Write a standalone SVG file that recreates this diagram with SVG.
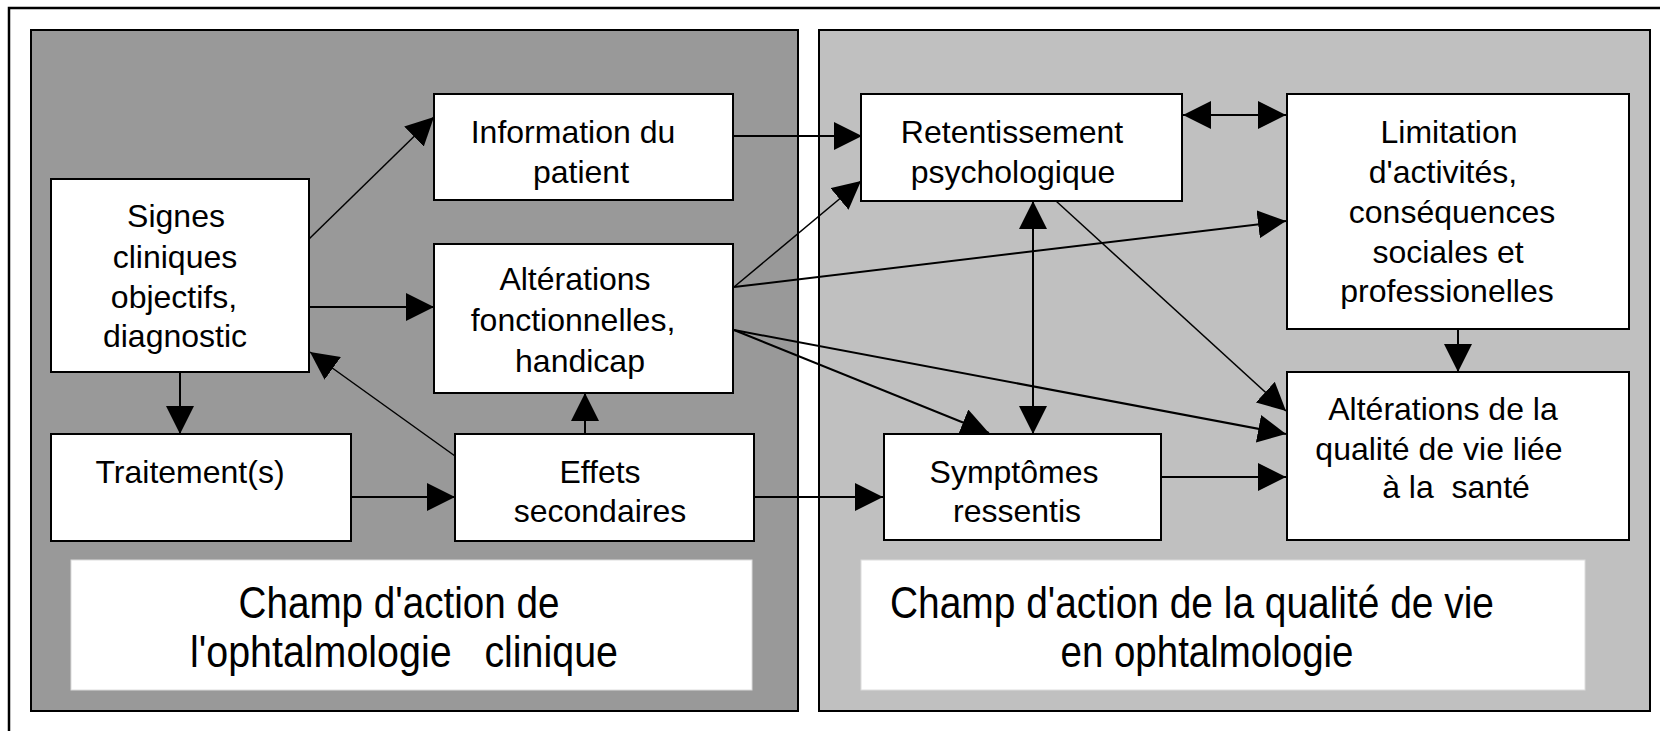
<svg xmlns="http://www.w3.org/2000/svg" width="1660" height="731" viewBox="0 0 1660 731">
<style>
.node rect{fill:#fff;stroke:#000;stroke-width:2}
.node text,.label text{font-family:"Liberation Sans",Arial,sans-serif;fill:#000;text-anchor:middle}
.node text{font-size:32px}
.label rect{fill:#fff;stroke:#dcdcdc;stroke-width:1}
.label text{font-size:45px;white-space:pre}
#connectors line{stroke:#000;stroke-width:2;fill:none}
#connectors line.thin{stroke-width:1.5}
</style>
<defs>
<marker id="ah" markerUnits="userSpaceOnUse" markerWidth="28" markerHeight="28" refX="26" refY="13" orient="auto-start-reverse" viewBox="0 0 26 26">
<path d="M0,0 L26,13 L0,26 z" fill="#000"/>
</marker>
</defs>
<rect x="9" y="8" width="1700" height="800" fill="#fff" stroke="#000" stroke-width="2.5"/>
<g id="panel-left"><rect x="31" y="30" width="767" height="681" fill="#999999" stroke="#000" stroke-width="2"/></g>
<g id="panel-right"><rect x="819" y="30" width="831" height="681" fill="#c0c0c0" stroke="#000" stroke-width="2"/></g>

<g id="label-left" class="label">
<rect x="71" y="560" width="681" height="130"/>
<text x="399" y="618" textLength="321" lengthAdjust="spacingAndGlyphs">Champ d'action de</text>
<text x="404" y="667" textLength="428" lengthAdjust="spacingAndGlyphs" xml:space="preserve">l'ophtalmologie   clinique</text>
</g>
<g id="label-right" class="label">
<rect x="861" y="560" width="724" height="130"/>
<text x="1192" y="618" textLength="604" lengthAdjust="spacingAndGlyphs">Champ d'action de la qualité de vie</text>
<text x="1207" y="667" textLength="293" lengthAdjust="spacingAndGlyphs">en ophtalmologie</text>
</g>

<g id="connectors">
<line class="thin" x1="309" y1="239" x2="434" y2="117" marker-end="url(#ah)"/>
<line x1="309" y1="307" x2="434" y2="307" marker-end="url(#ah)"/>
<line x1="180" y1="372" x2="180" y2="434" marker-end="url(#ah)"/>
<line x1="351" y1="497" x2="455" y2="497" marker-end="url(#ah)"/>
<line x1="585" y1="434" x2="585" y2="393" marker-end="url(#ah)"/>
<line class="thin" x1="455" y1="456" x2="310" y2="352" marker-end="url(#ah)"/>
<line x1="734" y1="136" x2="862" y2="136" marker-end="url(#ah)"/>
<line class="thin" x1="734" y1="287" x2="861" y2="181" marker-end="url(#ah)"/>
<line x1="734" y1="287" x2="1286" y2="221" marker-end="url(#ah)"/>
<line x1="734" y1="330" x2="989" y2="433" marker-end="url(#ah)"/>
<line x1="734" y1="330" x2="1286" y2="434" marker-end="url(#ah)"/>
<line x1="754" y1="497" x2="883" y2="497" marker-end="url(#ah)"/>
<line x1="1183" y1="115" x2="1286" y2="115" marker-start="url(#ah)" marker-end="url(#ah)"/>
<line x1="1033" y1="201" x2="1033" y2="434" marker-start="url(#ah)" marker-end="url(#ah)"/>
<line class="thin" x1="1056" y1="201" x2="1286" y2="411" marker-end="url(#ah)"/>
<line x1="1458" y1="329" x2="1458" y2="372" marker-end="url(#ah)"/>
<line x1="1161" y1="477" x2="1286" y2="477" marker-end="url(#ah)"/>
</g>

<g id="info" class="node">
<rect x="434" y="94" width="299" height="106"/>
<text x="573" y="143">Information du</text>
<text x="581" y="183">patient</text>
</g>
<g id="signes" class="node">
<rect x="51" y="179" width="258" height="193"/>
<text x="176" y="227">Signes</text>
<text x="175" y="268">cliniques</text>
<text x="174" y="308">objectifs,</text>
<text x="175" y="347">diagnostic</text>
</g>
<g id="alt-fonct" class="node">
<rect x="434" y="244" width="299" height="149"/>
<text x="575" y="290">Altérations</text>
<text x="573" y="331">fonctionnelles,</text>
<text x="580" y="372">handicap</text>
</g>
<g id="traitement" class="node">
<rect x="51" y="434" width="300" height="107"/>
<text x="190" y="483">Traitement(s)</text>
</g>
<g id="effets" class="node">
<rect x="455" y="434" width="299" height="107"/>
<text x="600" y="483">Effets</text>
<text x="600" y="522">secondaires</text>
</g>
<g id="retentissement" class="node">
<rect x="861" y="94" width="321" height="107"/>
<text x="1012" y="143">Retentissement</text>
<text x="1013" y="183">psychologique</text>
</g>
<g id="limitation" class="node">
<rect x="1287" y="94" width="342" height="235"/>
<text x="1449" y="143">Limitation</text>
<text x="1443" y="183">d'activités,</text>
<text x="1452" y="223">conséquences</text>
<text x="1448" y="263">sociales et</text>
<text x="1447" y="302">professionelles</text>
</g>
<g id="symptomes" class="node">
<rect x="884" y="434" width="277" height="106"/>
<text x="1014" y="483">Symptômes</text>
<text x="1017" y="522">ressentis</text>
</g>
<g id="alt-qualite" class="node">
<rect x="1287" y="372" width="342" height="168"/>
<text x="1443" y="420">Altérations de la</text>
<text x="1439" y="460">qualité de vie liée</text>
<text x="1456" y="498" xml:space="preserve">à la  santé</text>
</g>
</svg>
